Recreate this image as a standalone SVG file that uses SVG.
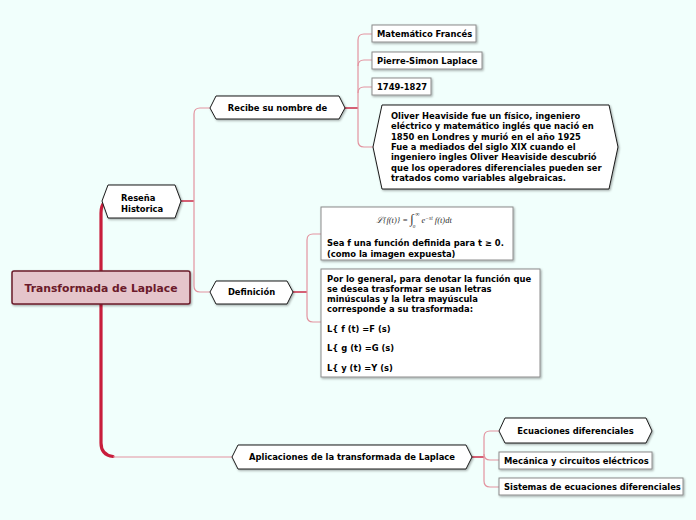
<svg xmlns="http://www.w3.org/2000/svg" width="696" height="520" viewBox="0 0 696 520">
<defs>
<filter id="sh" x="-10%" y="-20%" width="120%" height="150%">
<feDropShadow dx="1" dy="1.2" stdDeviation="0.8" flood-color="#000" flood-opacity="0.35"/>
</filter>
<style>
text{font-family:"DejaVu Sans","Verdana",sans-serif;font-weight:bold;font-size:8.4px;fill:#000}
.hex{fill:#fff;stroke:#1a1a1a;stroke-width:1;filter:url(#sh)}
.box{fill:#fff;stroke:#8c8c8c;stroke-width:1;filter:url(#sh)}
.thin{fill:none;stroke:#e3939f;stroke-width:1.2}
.red{fill:none;stroke:#c81e3c;stroke-width:1.4}
.thick{fill:none;stroke:#c81e3c;stroke-width:3.2;stroke-linecap:round}
.c{text-anchor:middle}
</style>
</defs>
<rect width="696" height="520" fill="#f1fffc"/>

<g id="connectors">
<path class="thick" d="M101,271 V213 Q101,206 104,203"/>
<path class="thick" d="M101,304 V443 Q101,455 113,456.5"/>
<path class="thin" d="M113,457 H232"/>
<path class="red" d="M181,201 H194"/>
<path class="thin" d="M210,108 H200 Q194,108 194,114 V286 Q194,292 200,292 H210"/>
<path class="red" d="M345,108 H358"/>
<path class="thin" d="M372,34 H364 Q358,34 358,40 V141 Q358,147 364,147 H373"/>
<path class="thin" d="M358,66 Q358,60 364,60 H372"/>
<path class="thin" d="M358,93 Q358,87 364,87 H372"/>
<path class="red" d="M293,292 H307"/>
<path class="thin" d="M321,234 H313 Q307,234 307,240 V316 Q307,322 313,322 H321"/>
<path class="red" d="M472,457 H484"/>
<path class="thin" d="M499,431 H490 Q484,431 484,437 V481 Q484,487 490,487 H499"/>
<path class="thin" d="M484,454 Q484,460 490,460 H499"/>
</g>

<g id="central">
<rect x="12" y="271" width="178" height="33" rx="2" fill="#e5c5cb" stroke="#6b1a2a" stroke-width="1.5" filter="url(#sh)"/>
<text x="101" y="292" class="c" style="font-size:10.8px;fill:#6b1a2a">Transformada de Laplace</text>
</g>

<g id="resena">
<polygon class="hex" points="102,201 108,185 175,185 181,201 175,218 108,218"/>
<text x="121" y="201">Reseña</text>
<text x="121" y="212">Historica</text>
</g>

<g id="recibe">
<polygon class="hex" points="210,108 216,96 339,96 345,108 339,119 216,119"/>
<text x="277.5" y="111" class="c">Recibe su nombre de</text>
</g>

<g id="matematico">
<rect class="box" x="372" y="25" width="104" height="17"/>
<text x="377" y="36.5">Matemático Francés</text>
</g>

<g id="pierre">
<rect class="box" x="372" y="52" width="110" height="17"/>
<text x="377" y="63.5">Pierre-Simon Laplace</text>
</g>

<g id="fechas">
<rect class="box" x="372" y="78" width="59" height="17"/>
<text x="377" y="89.5">1749-1827</text>
</g>

<g id="heaviside">
<polygon class="hex" points="373,147 382,105 609,105 618,147 609,189 382,189"/>
<text x="391" y="119">Oliver Heaviside fue un físico, ingeniero</text>
<text x="391" y="129.3">eléctrico y matemático inglés que nació en</text>
<text x="391" y="139.6">1850 en Londres y murió en el año 1925</text>
<text x="391" y="149.9">Fue a mediados del siglo XIX cuando el</text>
<text x="391" y="160.2">ingeniero ingles Oliver Heaviside descubrió</text>
<text x="391" y="170.5">que los operadores diferenciales pueden ser</text>
<text x="391" y="180.8">tratados como variables algebraicas.</text>
</g>

<g id="definicion">
<polygon class="hex" points="210,292 216,281 287,281 293,292 287,304 216,304"/>
<text x="251.5" y="295" class="c">Definición</text>
</g>

<g id="formula">
<rect class="box" x="321" y="207" width="192" height="53"/>
<text x="376" y="223" style="font-family:'Liberation Serif',serif;font-weight:normal;font-style:italic;font-size:8.5px;fill:#333">ℒ{f(t)} = <tspan style="font-size:13px;font-style:normal">∫</tspan><tspan dx="-1" dy="5" style="font-size:5px">0</tspan><tspan dy="-12" style="font-size:6px">∞</tspan><tspan dx="2" dy="7">e</tspan><tspan dy="-3.5" style="font-size:5.5px">−st</tspan><tspan dy="3.5"> f(t)dt</tspan></text>
<text x="327" y="246">Sea f una función definida para t ≥ 0.</text>
<text x="327" y="256.5">(como la imagen expuesta)</text>
</g>

<g id="notacion">
<rect class="box" x="321" y="269" width="219" height="108"/>
<text x="327" y="282">Por lo general, para denotar la función que</text>
<text x="327" y="292">se desea trasformar se usan letras</text>
<text x="327" y="302">minúsculas y la letra mayúscula</text>
<text x="327" y="312">corresponde a su trasformada:</text>
<text x="327" y="331.5">L{ f (t) =F (s)</text>
<text x="327" y="351">L{ g (t) =G (s)</text>
<text x="327" y="370.5">L{ y (t) =Y (s)</text>
</g>

<g id="aplicaciones">
<polygon class="hex" points="232,457 238,445 466,445 472,457 466,469 238,469"/>
<text x="352" y="460" class="c">Aplicaciones de la transformada de Laplace</text>
</g>

<g id="ecuaciones">
<polygon class="hex" points="499,431 505,418 646,418 652,431 646,443 505,443"/>
<text x="575.5" y="434" class="c">Ecuaciones diferenciales</text>
</g>

<g id="mecanica">
<rect class="box" x="499" y="452" width="153" height="17"/>
<text x="504" y="463.5">Mecánica y circuitos eléctricos</text>
</g>

<g id="sistemas">
<rect class="box" x="499" y="478" width="184" height="17"/>
<text x="504" y="489.5">Sistemas de ecuaciones diferenciales</text>
</g>
</svg>
